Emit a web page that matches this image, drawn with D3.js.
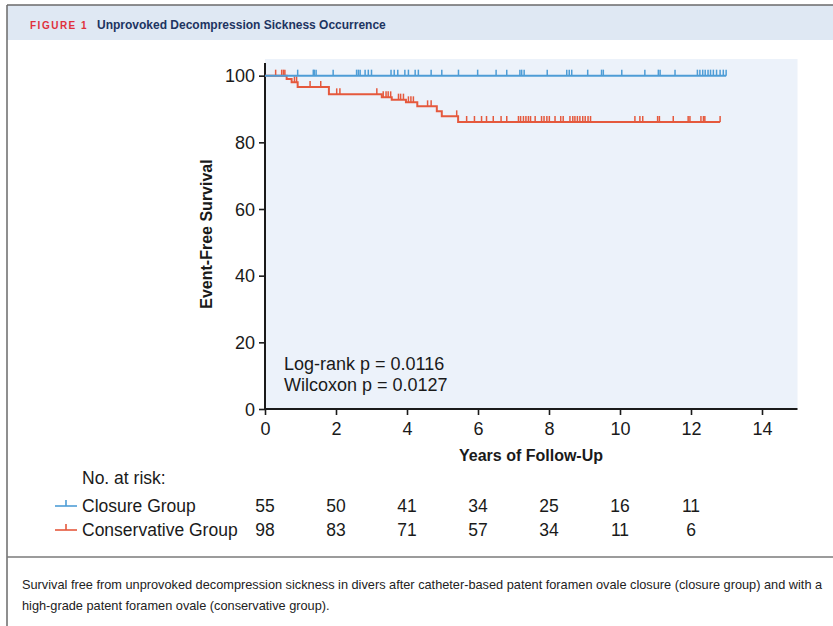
<!DOCTYPE html>
<html>
<head>
<meta charset="utf-8">
<script src="https://cdn.jsdelivr.net/npm/d3@7/dist/d3.min.js"></script>
<style>
  html, body { margin: 0; padding: 0; background: #fff; }
  svg { display: block; font-family: "Liberation Sans", Arial, sans-serif; }
</style>
</head>
<body>
<svg id="chart" width="833" height="626"></svg>
<script>
// ---- Data ----------------------------------------------------------------
const xTickValues = [0, 2, 4, 6, 8, 10, 12, 14];
const yTickValues = [0, 20, 40, 60, 80, 100];
const riskTimes = [0, 2, 4, 6, 8, 10, 12];
const closureAtRisk = [55, 50, 41, 34, 25, 16, 11];
const conservativeAtRisk = [98, 83, 71, 57, 34, 11, 6];

// Kaplan–Meier steps: time (years) and survival (%) after each event
const closureStepTimes = [0];
const closureStepValues = [100];
const closureEnd = 12.99;
const closureCensored = [0.92, 1.36, 1.39, 1.44, 1.92, 2.58, 2.63, 2.68, 2.82, 2.91, 3.0,
  3.55, 3.64, 3.74, 3.94, 4.04, 4.23, 4.32, 4.68, 4.98, 5.45, 5.99, 6.51, 6.81,
  7.18, 7.23, 7.30, 7.95, 8.50, 8.57, 8.64, 9.09, 9.48, 9.53, 10.05, 10.70, 11.08,
  11.13, 11.55, 12.18, 12.25, 12.33, 12.40, 12.48, 12.55, 12.63, 12.72, 12.82, 12.91, 12.99];

const conservativeStepTimes = [0, 0.61, 0.75, 0.92, 1.80, 3.29, 3.57, 3.97, 4.29, 4.84, 4.98, 5.44];
const conservativeStepValues = [100, 99.0, 98.0, 96.6, 94.4, 93.5, 92.8, 92.0, 90.8, 89.3, 87.8, 86.1];
const conservativeEnd = 12.82;
const conservativeCensored = [0.30, 0.47, 0.52, 0.56, 0.83, 0.89, 1.27, 1.57, 2.02, 2.11, 3.15,
  3.33, 3.41, 3.47, 3.54, 3.76, 3.82, 3.90, 4.04, 4.11, 4.18, 4.58, 4.68, 5.40,
  5.68, 5.90, 6.10, 6.24, 6.43, 6.65, 6.81, 7.14, 7.20, 7.28, 7.35, 7.42, 7.48, 7.61,
  7.79, 7.86, 7.94, 8.01, 8.17, 8.33, 8.40, 8.59, 8.67, 8.73, 8.80, 8.87, 8.95, 9.02,
  9.10, 9.17, 10.42, 10.56, 10.64, 11.06, 11.11, 11.50, 11.92, 11.97, 12.28, 12.35,
  12.39, 12.82];

const groups = [
  { name: "Closure Group", color: "#4e9dd6", times: closureStepTimes, values: closureStepValues,
    end: closureEnd, censored: closureCensored, atRisk: closureAtRisk },
  { name: "Conservative Group", color: "#e5593d", times: conservativeStepTimes, values: conservativeStepValues,
    end: conservativeEnd, censored: conservativeCensored, atRisk: conservativeAtRisk }
];

// ---- Layout --------------------------------------------------------------
const W = 833, H = 626;
const plot = { left: 265, right: 797.5, top: 59, bottom: 409 };
const svg = d3.select("#chart");

const x = d3.scaleLinear().domain([0, 15]).range([plot.left, plot.right]);
const y = d3.scaleLinear().domain([0, 105]).range([plot.bottom, plot.top]);

// Frame: header band, borders, divider
svg.append("rect").attr("x", 7).attr("y", 5).attr("width", W - 7).attr("height", 35).attr("fill", "#dfe8f3");
svg.append("line").attr("x1", 7).attr("x2", W).attr("y1", 5).attr("y2", 5).attr("stroke", "#6a6a6a").attr("stroke-width", 1.5);
svg.append("line").attr("x1", 7).attr("x2", 7).attr("y1", 5).attr("y2", H).attr("stroke", "#6a6a6a").attr("stroke-width", 1.5);
svg.append("line").attr("x1", 7).attr("x2", W).attr("y1", 557).attr("y2", 557).attr("stroke", "#7a7a7a").attr("stroke-width", 1.5);

const header = svg.append("text").attr("x", 30).attr("y", 29);
header.append("tspan").text("FIGURE 1").attr("fill", "#e0313c").attr("font-weight", "bold")
  .attr("font-size", 10).attr("letter-spacing", 1.5);
header.append("tspan").text("Unprovoked Decompression Sickness Occurrence").attr("x", 97)
  .attr("fill", "#1d3461").attr("font-weight", "bold").attr("font-size", 12);

// Plot background
svg.append("rect").attr("x", plot.left).attr("y", plot.top)
  .attr("width", plot.right - plot.left).attr("height", plot.bottom - plot.top).attr("fill", "#ecf2fa");

// Axes
const axisColor = "#1a1a1a";
const yAxis = svg.append("g").attr("transform", `translate(${plot.left},0)`)
  .call(d3.axisLeft(y).tickValues(yTickValues).tickSize(6).tickPadding(4).tickSizeOuter(0));
const xAxis = svg.append("g").attr("transform", `translate(0,${plot.bottom})`)
  .call(d3.axisBottom(x).tickValues(xTickValues).tickSize(6).tickPadding(4).tickSizeOuter(0));
[xAxis, yAxis].forEach(g => {
  g.select(".domain").remove();
  g.selectAll(".tick line").attr("stroke", axisColor).attr("stroke-width", 1.6);
  g.selectAll(".tick text").attr("fill", "#1a1a1a").attr("font-size", 18).attr("font-family", "Liberation Sans, Arial, sans-serif");
});
yAxis.selectAll(".tick text").attr("dy", "0.35em");
xAxis.selectAll(".tick text").attr("dy", "0.9em");
svg.append("line").attr("x1", plot.left).attr("x2", plot.left).attr("y1", 63).attr("y2", plot.bottom + 1)
  .attr("stroke", axisColor).attr("stroke-width", 2);
svg.append("line").attr("x1", plot.left - 1).attr("x2", plot.right).attr("y1", plot.bottom).attr("y2", plot.bottom)
  .attr("stroke", axisColor).attr("stroke-width", 2);

// Axis titles
svg.append("text").attr("x", 531).attr("y", 461).attr("text-anchor", "middle")
  .attr("font-weight", "bold").attr("font-size", 16).attr("fill", "#1a1a1a").text("Years of Follow-Up");
svg.append("text").attr("transform", "translate(212,234) rotate(-90)").attr("text-anchor", "middle")
  .attr("font-weight", "bold").attr("font-size", 16).attr("fill", "#1a1a1a").text("Event-Free Survival");

// Statistics
svg.append("text").attr("x", 284).attr("y", 370).attr("font-size", 18).attr("fill", "#1a1a1a").text("Log-rank p = 0.0116");
svg.append("text").attr("x", 284).attr("y", 391).attr("font-size", 18).attr("fill", "#1a1a1a").text("Wilcoxon p = 0.0127");

// Survival curves with censor marks
const line = d3.line().x(d => x(d[0])).y(d => y(d[1])).curve(d3.curveStepAfter);
function survivalAt(g, t) {
  let v = g.values[0];
  g.times.forEach((tt, i) => { if (tt <= t) v = g.values[i]; });
  return v;
}
// conservative drawn first so the closure curve sits on top
[groups[1], groups[0]].forEach(g => {
  const pts = g.times.map((t, i) => [t, g.values[i]]);
  pts.push([g.end, g.values[g.values.length - 1]]);
  svg.append("path").attr("d", line(pts)).attr("fill", "none")
    .attr("stroke", g.color).attr("stroke-width", 2);
  svg.append("g").selectAll("line").data(g.censored).join("line")
    .attr("x1", d => x(d)).attr("x2", d => x(d))
    .attr("y1", d => y(survivalAt(g, d))).attr("y2", d => y(survivalAt(g, d)) - 6)
    .attr("stroke", g.color).attr("stroke-width", 1.5);
});

// Number-at-risk table
svg.append("text").attr("x", 82).attr("y", 484).attr("font-size", 17.5).attr("fill", "#1a1a1a").text("No. at risk:");
const rowY = [512, 536];
groups.forEach((g, i) => {
  const ry = rowY[i];
  svg.append("line").attr("x1", 55).attr("x2", 77).attr("y1", ry - 6).attr("y2", ry - 6)
    .attr("stroke", g.color).attr("stroke-width", 1.6);
  svg.append("line").attr("x1", 66).attr("x2", 66).attr("y1", ry - 6).attr("y2", ry - 12)
    .attr("stroke", g.color).attr("stroke-width", 1.6);
  svg.append("text").attr("x", 82).attr("y", ry).attr("font-size", 17.5).attr("fill", "#1a1a1a").text(g.name);
  svg.append("g").selectAll("text").data(g.atRisk).join("text")
    .attr("x", (d, j) => x(riskTimes[j])).attr("y", ry).attr("text-anchor", "middle")
    .attr("font-size", 17.5).attr("fill", "#1a1a1a").text(d => d);
});

// Caption
const caption = [
  "Survival free from unprovoked decompression sickness in divers after catheter-based patent foramen ovale closure (closure group) and with a",
  "high-grade patent foramen ovale (conservative group)."
];
svg.append("g").selectAll("text").data(caption).join("text")
  .attr("x", 22).attr("y", (d, i) => 589 + i * 21).attr("font-size", 12.75).attr("fill", "#222").text(d => d);
</script>
</body>
</html>
